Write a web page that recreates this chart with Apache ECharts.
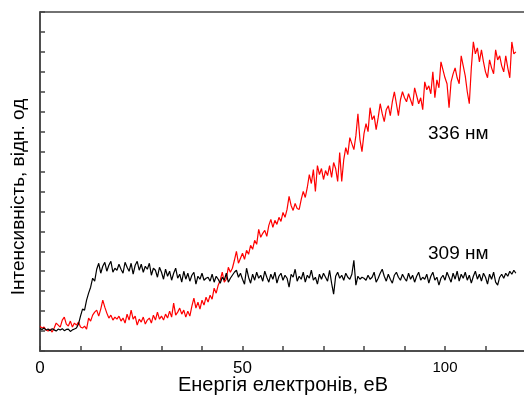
<!DOCTYPE html>
<html>
<head>
<meta charset="utf-8">
<script src="https://cdn.jsdelivr.net/npm/echarts@6/dist/echarts.min.js"></script>
<style>
  html, body { margin: 0; padding: 0; background: #fff; }
  #chart { width: 524px; height: 399px; }
</style>
</head>
<body>
<div id="chart"></div>
<script>
// energy grid: one reading every 0.5 eV, starting at 0
const energyStart = 0;
const energyStep = 0.5;

// 309 nm curve (black)
const int309 = [
  1.12, 1.08, 1.15, 1.05, 1.10, 1.02, 1.12, 1.06, 1.00, 1.10,
  1.05, 1.12, 1.02, 1.08, 1.10, 0.98, 1.06, 1.10, 1.15, 1.35,
  1.75, 2.10, 2.05, 2.55, 2.90, 3.20, 3.65, 3.50, 4.10, 4.40,
  3.90, 4.25, 4.45, 4.00, 4.30, 4.50, 3.95, 4.15, 4.05, 4.35,
  4.10, 3.90, 4.45, 4.20, 4.00, 4.40, 3.85, 4.30, 4.50, 4.05,
  4.35, 3.95, 4.25, 4.10, 4.40, 3.80, 4.15, 4.05, 3.70, 4.20,
  3.95, 3.60, 4.10, 3.75, 4.00, 3.55, 3.90, 4.15, 3.65, 3.85,
  3.45, 4.00, 3.60, 3.90, 3.50, 3.80, 3.95, 3.35, 3.75, 3.60,
  3.90, 3.55, 3.65, 3.70, 3.50, 3.85, 3.45, 3.75, 3.60, 3.40,
  3.70, 3.55, 3.90, 3.45, 3.65, 3.80, 3.95, 4.05, 3.70, 3.90,
  3.60, 3.35, 4.15, 3.70, 3.40, 3.85, 3.55, 3.95, 3.65, 3.80,
  3.50, 4.00, 3.70, 3.45, 3.85, 3.60, 3.95, 3.40, 3.75, 3.90,
  3.55, 3.80, 3.65, 3.20, 3.85, 3.70, 4.10, 3.50, 3.75, 3.60,
  3.95, 3.45, 3.80, 3.65, 4.05, 3.55, 3.70, 3.35, 3.85, 3.60,
  3.90, 3.70, 3.50, 4.05, 3.40, 2.85, 3.75, 3.95, 3.65, 3.80,
  3.55, 3.90, 3.70, 3.60, 3.85, 4.55, 3.30, 3.75, 3.60, 3.70,
  3.65, 3.55, 3.80, 3.60, 3.70, 3.95, 3.45, 3.65, 3.90, 4.10,
  3.75, 3.50, 3.85, 3.60, 3.40, 3.80, 3.95, 3.70, 3.55, 3.85,
  3.65, 3.50, 3.90, 3.60, 3.80, 3.45, 3.75, 3.95, 3.55, 3.70,
  3.60, 3.85, 3.40, 3.75, 3.95, 3.55, 3.70, 3.30, 3.65, 3.80,
  3.55, 3.95, 3.70, 3.45, 3.90, 3.60, 4.00, 3.50, 3.85, 3.65,
  3.95, 3.55, 3.80, 3.40, 3.75, 4.00, 3.60, 3.85, 3.50, 3.90,
  3.70, 3.35, 3.85, 3.60, 3.95, 3.45, 3.30, 3.70, 3.85, 3.65,
  3.90, 3.75, 4.00, 3.85, 4.05, 3.90
];

// 336 nm curve (red)
const int336 = [
  1.25, 1.15, 1.20, 1.05, 1.00, 1.10, 0.95, 1.15, 1.40, 1.30,
  1.20, 1.55, 1.70, 1.35, 1.25, 1.50, 1.20, 1.40, 1.30, 1.45,
  1.20, 1.15, 1.25, 1.10, 1.65, 1.50, 1.80, 1.95, 2.05, 1.75,
  2.10, 2.55, 2.20, 1.90, 1.65, 1.80, 1.55, 1.70, 1.60, 1.75,
  1.50, 1.65, 1.40, 1.85, 1.55, 2.05, 1.60, 1.75, 1.30, 1.60,
  1.45, 1.70, 1.35, 1.55, 1.65, 1.40, 1.80, 1.55, 1.95, 1.60,
  1.75, 1.55, 1.85, 1.65, 2.00, 1.70, 2.40, 1.80, 1.95, 2.15,
  1.85, 2.05, 1.70, 2.00, 1.75, 2.25, 2.65, 2.15, 2.45, 2.10,
  2.55, 2.30, 2.70, 2.45, 2.80, 2.60, 3.15, 2.90, 3.30, 3.55,
  3.95, 3.45, 3.60, 4.20, 3.95, 4.15, 4.55, 5.00, 4.40, 4.65,
  4.90, 4.60, 5.05, 4.85, 5.30, 5.10, 5.55, 5.35, 6.10, 5.70,
  5.90, 6.05, 5.75, 6.30, 6.60, 6.20, 6.55, 6.35, 6.70, 6.50,
  6.95, 6.70, 7.10, 7.75, 7.30, 7.05, 7.40, 7.15, 7.10, 7.60,
  8.00, 7.70, 8.20, 8.85, 8.40, 9.10, 8.00, 9.30, 8.85, 9.15,
  8.60, 9.05, 8.80, 9.30, 8.70, 9.45, 9.15, 8.50, 9.95, 8.50,
  9.60, 10.20, 9.85, 10.70, 10.40, 10.10, 10.80, 11.90, 10.60, 10.00,
  10.90, 11.40, 11.00, 12.20, 11.60, 11.80, 11.10, 11.70, 12.40, 11.90,
  11.50, 12.10, 12.30, 11.80, 12.50, 13.00, 12.40, 11.80, 12.60, 13.00,
  12.70, 12.50, 12.90, 12.60, 12.30, 13.20, 12.80, 12.40, 12.70, 12.10,
  13.50, 13.10, 13.30, 12.90, 14.00, 12.70, 13.60, 13.20, 14.50, 14.10,
  13.70, 13.40, 12.20, 13.50, 13.90, 14.20, 13.70, 13.40, 14.80, 14.30,
  13.80, 13.00, 12.40, 14.20, 15.50, 14.90, 15.20, 14.50, 15.10, 14.50,
  14.00, 13.70, 14.60, 14.20, 13.90, 15.10, 14.60, 14.80, 14.30, 14.00,
  14.80, 14.20, 13.70, 15.50, 14.90, 15.00
];

const xTickLabels = [0, 50, 100];
const seriesNames = ['309 нм', '336 нм'];

const toPairs = arr => arr.map((v, i) => [energyStart + i * energyStep, v]);

const frameColor = '#444';
const font = 'Liberation Sans, Arial, sans-serif';

const chart = echarts.init(document.getElementById('chart'));

chart.setOption({
  animation: false,
  grid: {
    left: 40, top: 12, right: -2, bottom: 48,
    outerBoundsMode: 'none',
    containLabel: false,
    show: true,
    borderColor: frameColor,
    borderWidth: 1.5
  },
  xAxis: {
    type: 'value',
    min: 0, max: 120, interval: 10,
    axisLine: { lineStyle: { color: frameColor, width: 1.5 } },
    axisTick: { inside: true, length: 5, lineStyle: { color: frameColor, width: 1.5 } },
    axisLabel: {
      margin: 9,
      fontFamily: font, fontSize: 17, color: '#000',
      formatter: v => {
        if (!xTickLabels.includes(v)) return '';
        return v >= 100 ? '{s|' + v + '}' : String(v);
      },
      rich: { s: { fontFamily: font, fontSize: 15, color: '#000' } }
    },
    splitLine: { show: false }
  },
  yAxis: {
    type: 'value',
    min: 0, max: 17, interval: 1,
    axisLine: { show: true, lineStyle: { color: frameColor, width: 1.5 } },
    axisTick: { show: true, inside: true, length: 5, lineStyle: { color: frameColor, width: 1.5 } },
    axisLabel: { show: false },
    splitLine: { show: false }
  },
  graphic: [
    {
      type: 'text',
      x: 283, y: 385,
      style: {
        text: 'Енергія електронів, еВ',
        font: '20px ' + font,
        fill: '#000',
        align: 'center',
        verticalAlign: 'middle'
      }
    },
    {
      type: 'text',
      x: 19, y: 197,
      rotation: Math.PI / 2,
      style: {
        text: 'Інтенсивність, відн. од',
        font: '19px ' + font,
        fill: '#000',
        align: 'center',
        verticalAlign: 'middle'
      }
    },
    {
      type: 'text', x: 428, y: 134,
      style: { text: seriesNames[1], font: '19px ' + font, fill: '#000', verticalAlign: 'middle' }
    },
    {
      type: 'text', x: 428, y: 254,
      style: { text: seriesNames[0], font: '19px ' + font, fill: '#000', verticalAlign: 'middle' }
    }
  ],
  series: [
    {
      name: seriesNames[0],
      type: 'line',
      data: toPairs(int309),
      showSymbol: false,
      lineStyle: { color: '#000', width: 1.2 },
      z: 3
    },
    {
      name: seriesNames[1],
      type: 'line',
      data: toPairs(int336),
      showSymbol: false,
      lineStyle: { color: '#ff0000', width: 1.2 },
      z: 2
    }
  ]
});
</script>
</body>
</html>
